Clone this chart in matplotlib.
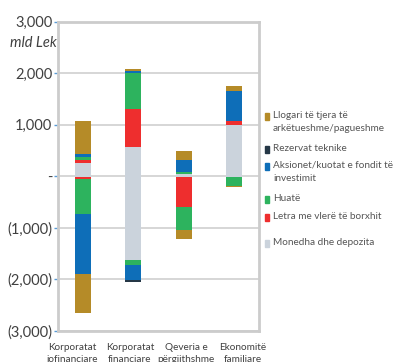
import matplotlib
matplotlib.use("Agg")
import matplotlib.pyplot as plt
from matplotlib.patches import Rectangle
from matplotlib.ticker import FuncFormatter, FixedLocator
import numpy as np

plt.rcParams['font.family'] = ['Lato', 'DejaVu Sans']

categories = ["Korporatat\njofinanciare", "Korporatat\nfinanciare",
              "Qeveria e\npërgjithshme", "Ekonomitë\nfamiliare"]

# stacking order, bottom (next to zero) to top
series = ["Monedha dhe depozita", "Letra me vlerë të borxhit", "Huatë",
          "Aksionet/kuotat e fondit të\ninvestimit", "Rezervat teknike",
          "Llogari të tjera të\narkëtueshme/pagueshme"]
colors = ["#CBD3DC", "#EE2E2E", "#2DB35E", "#0E6EB8", "#253746", "#B58B28"]

# positive side (mld Lek)
pos_monedha = [260, 563, 45, 990]
pos_letra = [50, 738, 0, 84]
pos_huate = [55, 705, 45, 0]
pos_aksionet = [70, 32, 220, 576]
pos_rezervat = [0, 10, 0, 0]
pos_llogari = [635, 32, 175, 104]

# negative side (mld Lek)
neg_monedha = [-15, -1631, -25, -10]
neg_letra = [-30, 0, -570, 0]
neg_huate = [-680, -90, -440, -175]
neg_aksionet = [-1165, -298, 0, 0]
neg_rezervat = [0, -26, 0, 0]
neg_llogari = [-757, -13, -180, -15]

pos = [pos_monedha, pos_letra, pos_huate, pos_aksionet, pos_rezervat, pos_llogari]
neg = [neg_monedha, neg_letra, neg_huate, neg_aksionet, neg_rezervat, neg_llogari]

W, H = 393, 362
fig = plt.figure(figsize=(W / 100, H / 100), dpi=100)
ax = fig.add_axes([0.1476, 0.0865, 0.5115, 0.8535])

x = np.arange(len(categories))
bp = np.zeros(len(categories))
bn = np.zeros(len(categories))
for vals_p, vals_n, c in zip(pos, neg, colors):
    vp = np.array(vals_p, dtype=float)
    vn = np.array(vals_n, dtype=float)
    ax.bar(x, vp, 0.32, bottom=bp, color=c, zorder=3)
    ax.bar(x, vn, 0.32, bottom=bn, color=c, zorder=3)
    bp += vp
    bn += vn

ax.set_xlim(-0.5, 3.5)
ax.set_ylim(-3000, 3000)
ax.yaxis.set_major_locator(FixedLocator([-3000, -2000, -1000, 0, 1000, 2000, 3000]))


def fmt(v, _):
    if v == 0:
        return "-"
    if v < 0:
        return "({:,.0f})".format(-v)
    return "{:,.0f}".format(v)


ax.yaxis.set_major_formatter(FuncFormatter(fmt))
ax.grid(axis="y", color="#d0d0d0", linewidth=1.2, zorder=0)
for s in ax.spines.values():
    s.set_color("#cccccc")
    s.set_linewidth(2)
ax.tick_params(axis="y", length=3, width=1, color="#5b9bd5", labelsize=10.5,
               labelcolor="#404040", pad=1)
ax.tick_params(axis="x", length=0, labelsize=7.2, labelcolor="#404040", pad=9)
# category labels sit a little wider apart than the bars in the original
ax.set_xticks(x + np.array([-0.22, -0.07, 0.05, 0.18]))
ax.set_xticklabels(categories, linespacing=1.45, va="top")

fig.text(0.145, 0.88, "mld Lek", ha="right", va="center", fontsize=10.5,
         style="italic", color="#404040")

# legend, drawn by hand to match the uneven spacing (pixel rows from top)
leg_rows = [117, 150, 167, 200, 218, 244]
for c, l, yy in zip(colors[::-1], series[::-1], leg_rows):
    fig.patches.append(Rectangle((265 / W, 1 - (yy + 3) / H), 4 / W, 7 / H,
                                 transform=fig.transFigure, color=c))
    fig.text(273 / W, 1 - (yy - 6) / H, l, ha="left", va="top", fontsize=7.2,
             color="#555555", linespacing=1.55)

fig.savefig("out.png", dpi=100)
